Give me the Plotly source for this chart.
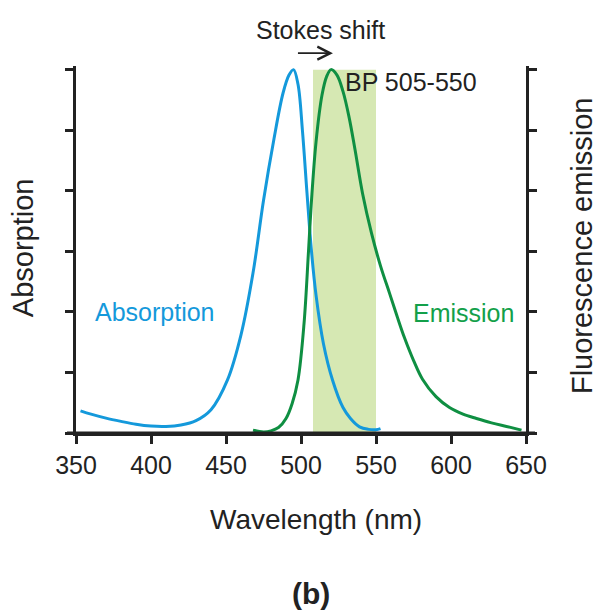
import plotly.graph_objects as go

# Absorption spectrum (blue)
abs_nm = [353, 360, 370, 380, 390, 400, 410, 420, 430, 440, 451, 460, 468, 475, 482, 488, 492, 495,
          498, 501, 504, 507, 510, 515, 521, 528, 533, 539, 545, 550, 553]
abs_val = [0.061, 0.052, 0.041, 0.032, 0.024, 0.019, 0.018, 0.022, 0.034, 0.064, 0.146, 0.27, 0.44, 0.64,
           0.81, 0.935, 0.985, 1.0, 0.96, 0.83, 0.66, 0.5, 0.38, 0.245, 0.146, 0.07, 0.04, 0.017, 0.01, 0.009, 0.012]

# Emission spectrum (green)
em_nm = [468, 475, 480, 485, 490, 494, 498, 502, 505, 507, 510, 514, 517, 520, 524, 528, 532, 536, 541,
         547, 553, 559, 564, 569, 575, 581, 590, 599, 608, 617, 627, 637, 647]
em_val = [0.008, 0.003, 0.006, 0.015, 0.04, 0.08, 0.146, 0.3, 0.5, 0.64, 0.8, 0.93, 0.98, 1.0, 0.985, 0.94,
          0.87, 0.78, 0.66, 0.55, 0.46, 0.385, 0.322, 0.262, 0.2, 0.148, 0.1, 0.07, 0.052, 0.04, 0.028, 0.018, 0.008]

# Band-pass filter
bp_start, bp_end = 508, 550
x_ticks = [350, 400, 450, 500, 550, 600, 650]
y_ticks = [0, 1/6, 2/6, 3/6, 4/6, 5/6, 1]

BLUE = "#1499db"
GREEN = "#0f8f42"
FONT = "Liberation Sans, Arial, sans-serif"

fig = go.Figure()
fig.add_shape(type="rect", xref="x", yref="y", x0=bp_start, x1=bp_end, y0=0, y1=1.0,
              fillcolor="#d6e8b3", line_width=0, layer="below")
fig.add_trace(go.Scatter(x=abs_nm, y=abs_val, mode="lines",
                         line=dict(color=BLUE, width=3, shape="spline", smoothing=1.0),
                         showlegend=False))
fig.add_trace(go.Scatter(x=em_nm, y=em_val, mode="lines",
                         line=dict(color=GREEN, width=3, shape="spline", smoothing=1.0),
                         showlegend=False, yaxis="y2"))

fig.update_layout(
    width=601, height=612,
    margin=dict(l=76, r=75, t=66, b=179),
    paper_bgcolor="white", plot_bgcolor="white",
    font=dict(family=FONT, size=25, color="#222"),
    xaxis=dict(range=[350, 650], tickvals=x_ticks, ticks="outside", ticklen=8, tickwidth=3,
               tickcolor="#222", showline=True, linewidth=3, linecolor="#222", showgrid=False,
               zeroline=False, tickfont=dict(size=25, color="#222")),
    yaxis=dict(range=[0, 1.01], tickvals=y_ticks, ticks="outside", ticklen=8, tickwidth=3,
               tickcolor="#222", showline=True, linewidth=3, linecolor="#222", showgrid=False,
               zeroline=False, showticklabels=False),
    yaxis2=dict(range=[0, 1.01], tickvals=y_ticks, ticks="outside", ticklen=8, tickwidth=3,
                tickcolor="#222", showline=True, linewidth=3, linecolor="#222", showgrid=False,
                zeroline=False, showticklabels=False, overlaying="y", side="right"),
)

# extend bottom axis line slightly past both side axes
fig.add_shape(type="line", xref="paper", yref="paper", x0=-0.02, x1=1.02, y0=0, y1=0,
              line=dict(color="#222", width=3))

ann = []
ann.append(dict(x=521.3, y=1.035, xref="x", yref="paper", ax=-40, ay=0,
                showarrow=True, arrowhead=5, arrowsize=1.4, arrowwidth=1.8, arrowcolor="#222", text=" "))
ann.append(dict(x=513.3, y=1.099, xref="x", yref="paper", text="Stokes shift", showarrow=False,
                xanchor="center", yanchor="middle", font=dict(size=25, color="#222")))
ann.append(dict(x=528, y=0.967, xref="x", yref="y", text="BP 505-550", showarrow=False, xanchor="left",
                font=dict(size=25, color="#222")))
ann.append(dict(x=402.7, y=0.333, xref="x", yref="y", text="Absorption", showarrow=False,
                font=dict(size=25, color=BLUE)))
ann.append(dict(x=608, y=0.33, xref="x", yref="y", text="Emission", showarrow=False,
                font=dict(size=25, color="#13a04a")))
ann.append(dict(x=-0.118, y=0.506, xref="paper", yref="paper", text="Absorption", textangle=-90,
                xanchor="center", yanchor="middle",
                showarrow=False, font=dict(size=29, color="#222")))
ann.append(dict(x=1.125, y=0.51, xref="paper", yref="paper", text="Fluorescence emission", textangle=-90,
                xanchor="center", yanchor="middle",
                showarrow=False, font=dict(size=29, color="#222")))
ann.append(dict(x=0.534, y=-0.237, xref="paper", yref="paper", text="Wavelength (nm)",
                xanchor="center", yanchor="middle",
                showarrow=False, font=dict(size=28, color="#222")))
ann.append(dict(x=0.523, y=-0.437, xref="paper", yref="paper", text="<b>(b)</b>",
                xanchor="center", yanchor="middle",
                showarrow=False, font=dict(size=30, color="#222")))
fig.update_layout(annotations=ann)

fig.write_html("out.html")
